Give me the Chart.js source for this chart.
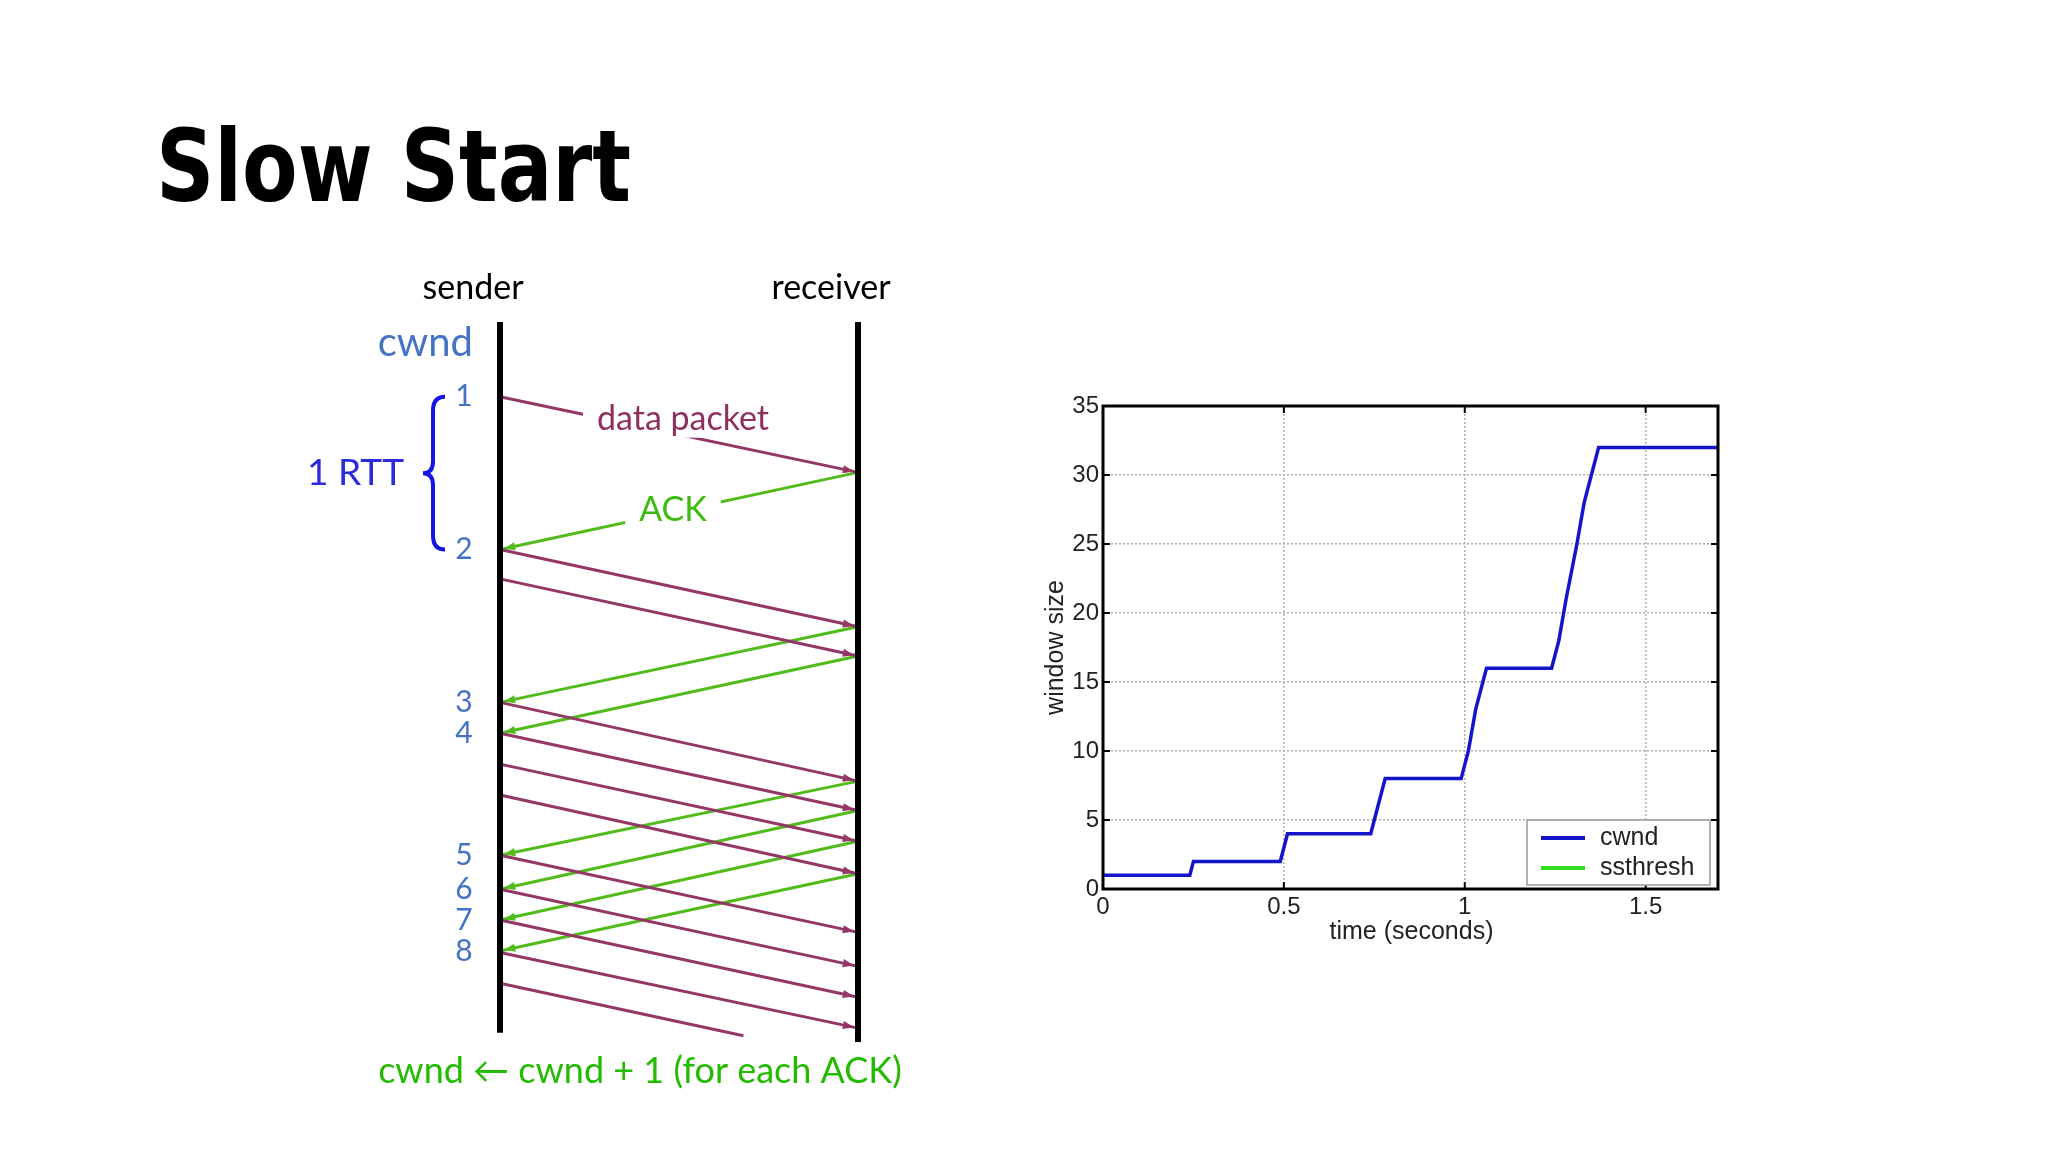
<!DOCTYPE html>
<html>
<head>
<meta charset="utf-8">
<script src="https://cdn.jsdelivr.net/npm/chart.js@4.4.1/dist/chart.umd.min.js"></script>
<style>
  body { margin: 0; background: #fff; width: 2048px; height: 1152px; overflow: hidden; position: relative; }
  #title { position: absolute; left: 156px; top: 108px; font-family: "DejaVu Sans Condensed", "DejaVu Sans"; font-weight: bold; font-size: 100px; letter-spacing: 0px; color: #000; transform: scaleX(0.9); transform-origin: left top; }
  canvas { position: absolute; left: 0; top: 0; }
</style>
</head>
<body>
<div id="title">Slow Start</div>
<canvas id="seq" width="2048" height="1152"></canvas>
<canvas id="cw" width="2048" height="1152"></canvas>
<script>
// ---- sequence diagram data (time in slot units, x: 0 = sender, 1 = receiver)
const dataSend = [0, 4.95, 5.9, 9.9, 10.9, 11.9, 12.9, 14.85, 15.95, 16.95, 18];
const dataRecv = [2.45, 7.45, 8.4, 12.45, 13.4, 14.4, 15.45, 17.35, 18.45, 19.45, 20.45];
const lastPacket = { send: 19, endX: 0.68, endT: 20.7 };
const ackLeave = [2.45, 7.45, 8.4, 12.45, 13.4, 14.4, 15.45];
const ackArrive = [4.95, 9.9, 10.9, 14.85, 15.95, 16.95, 17.95];
const cwndLabels = ['1', '2', '3', '4', '5', '6', '7', '8'];
const cwndTimes = [0, 4.95, 9.9, 10.9, 14.85, 15.95, 16.95, 17.95];

// ---- cwnd plot data
const timeSec = [0, 0.24, 0.25, 0.49, 0.51, 0.74, 0.78, 0.99, 1.01, 1.03, 1.06, 1.24, 1.26, 1.28, 1.31, 1.33, 1.35, 1.37, 1.70];
const cwndVals = [1, 1, 2, 2, 4, 4, 8, 8, 10, 13, 16, 16, 18, 21, 25, 28, 30, 32, 32];
const legendNames = ['cwnd', 'ssthresh'];

const DATA_COL = '#943766';
const ACK_COL = '#52bb1c';
const BLUE_TXT = '#4472c4';

const seqSets = [];
seqSets.push({ data: [{x: 0, y: -2.42}, {x: 0, y: 20.6}], borderColor: '#000', borderWidth: 6 });
seqSets.push({ data: [{x: 1, y: -2.42}, {x: 1, y: 20.9}], borderColor: '#000', borderWidth: 6 });
dataSend.forEach((s, i) => seqSets.push({ data: [{x: 0, y: s}, {x: 1, y: dataRecv[i]}], borderColor: DATA_COL, borderWidth: 3, arrow: true }));
seqSets.push({ data: [{x: 0, y: lastPacket.send}, {x: lastPacket.endX, y: lastPacket.endT}], borderColor: DATA_COL, borderWidth: 3 });
ackLeave.forEach((s, i) => seqSets.push({ data: [{x: 1, y: s}, {x: 0, y: ackArrive[i]}], borderColor: ACK_COL, borderWidth: 3, arrow: true }));
seqSets.forEach(d => { d.showLine = true; d.pointRadius = 0; d.clip = false; });

const seqDecor = {
  id: 'seqDecor',
  afterDatasetsDraw(chart) {
    const ctx = chart.ctx, xs = chart.scales.x, ys = chart.scales.y;
    // arrowheads
    chart.data.datasets.forEach(ds => {
      if (!ds.arrow) return;
      const a = ds.data[0], b = ds.data[1];
      const x1 = xs.getPixelForValue(a.x), y1 = ys.getPixelForValue(a.y);
      const x2 = xs.getPixelForValue(b.x), y2 = ys.getPixelForValue(b.y);
      const ang = Math.atan2(y2 - y1, x2 - x1);
      const tx = x2 - Math.cos(ang) * 4, ty = y2 - Math.sin(ang) * 4;
      ctx.save();
      ctx.fillStyle = ds.borderColor;
      ctx.beginPath();
      ctx.moveTo(tx, ty);
      ctx.lineTo(tx - 12 * Math.cos(ang - 0.35), ty - 12 * Math.sin(ang - 0.35));
      ctx.lineTo(tx - 12 * Math.cos(ang + 0.35), ty - 12 * Math.sin(ang + 0.35));
      ctx.closePath();
      ctx.fill();
      ctx.restore();
    });
    ctx.save();
    ctx.textAlign = 'center';
    ctx.textBaseline = 'middle';
    const label = (txt, x, y, col, size, bg) => {
      ctx.font = size + 'px Lato, "Open Sans", sans-serif';
      if (bg) {
        const w = ctx.measureText(txt).width;
        ctx.fillStyle = '#fff';
        ctx.fillRect(x - w / 2 - 14, y - size * 0.55, w + 28, size * 1.1);
      }
      ctx.fillStyle = col;
      ctx.fillText(txt, x, y);
    };
    const sx = xs.getPixelForValue(0), rx = xs.getPixelForValue(1);
    label('sender', sx - 27, 288, '#000', 34);
    label('receiver', rx - 27, 288, '#000', 34);
    ctx.textAlign = 'right';
    label('cwnd', sx - 27, 343, BLUE_TXT, 40);
    ctx.textAlign = 'center';
    cwndLabels.forEach((l, i) => label(l, sx - 36, ys.getPixelForValue(cwndTimes[i]), BLUE_TXT, 30));
    label('data packet', 683, 419, '#8e2f5e', 34, true);
    label('ACK', 673, 510, '#3dbb10', 34, true);
    label('cwnd \u2190 cwnd + 1 (for each ACK)', 640, 1071, '#22bb00', 36);
    // brace for one RTT
    const t0 = ys.getPixelForValue(cwndTimes[0]), t1 = ys.getPixelForValue(cwndTimes[1]);
    const mid = (t0 + t1) / 2, bx = 433;
    ctx.strokeStyle = '#1515e6';
    ctx.lineWidth = 4;
    ctx.beginPath();
    ctx.moveTo(bx + 12, t0);
    ctx.quadraticCurveTo(bx, t0, bx, t0 + 14);
    ctx.lineTo(bx, mid - 12);
    ctx.quadraticCurveTo(bx, mid, bx - 10, mid);
    ctx.quadraticCurveTo(bx, mid, bx, mid + 12);
    ctx.lineTo(bx, t1 - 14);
    ctx.quadraticCurveTo(bx, t1, bx + 12, t1);
    ctx.stroke();
    ctx.textAlign = 'right';
    label('1 RTT', 404, mid, '#2b2bdb', 37);
    ctx.restore();
  }
};

new Chart(document.getElementById('seq'), {
  type: 'scatter',
  data: { datasets: seqSets },
  options: {
    responsive: false, animation: false, events: [],
    layout: { padding: { left: 500, right: 2048 - 858, top: 322, bottom: 1152 - 1042 } },
    plugins: { legend: { display: false }, tooltip: { enabled: false } },
    scales: {
      x: { type: 'linear', min: 0, max: 1, display: false },
      y: { type: 'linear', min: -2.42, max: 20.9, reverse: true, display: false }
    }
  },
  plugins: [seqDecor]
});

// ---- cwnd vs time plot
const plotDecor = {
  id: 'plotDecor',
  afterDatasetsDraw(chart) {
    const ctx = chart.ctx, a = chart.chartArea, xs = chart.scales.x, ys = chart.scales.y;
    ctx.save();
    ctx.strokeStyle = '#000';
    ctx.lineWidth = 3;
    ctx.strokeRect(a.left, a.top, a.right - a.left, a.bottom - a.top);
    ctx.lineWidth = 2;
    ctx.beginPath();
    xs.ticks.forEach(t => {
      const p = xs.getPixelForValue(t.value);
      ctx.moveTo(p, a.bottom); ctx.lineTo(p, a.bottom - 7);
      ctx.moveTo(p, a.top); ctx.lineTo(p, a.top + 7);
    });
    ys.ticks.forEach(t => {
      const p = ys.getPixelForValue(t.value);
      ctx.moveTo(a.left, p); ctx.lineTo(a.left + 7, p);
      ctx.moveTo(a.right, p); ctx.lineTo(a.right - 7, p);
    });
    ctx.stroke();
    // axis titles
    ctx.fillStyle = '#222';
    ctx.font = '25px "Liberation Sans", Arial, sans-serif';
    ctx.textAlign = 'center';
    ctx.textBaseline = 'middle';
    ctx.fillText('time (seconds)', (a.left + a.right) / 2 + 1, 932);
    ctx.save();
    ctx.translate(1056, (a.top + a.bottom) / 2);
    ctx.rotate(-Math.PI / 2);
    ctx.fillText('window size', 0, 0);
    ctx.restore();
    // legend box
    const lx = 1527, ly = 820, lw = 183, lh = 65;
    ctx.fillStyle = '#fff';
    ctx.fillRect(lx, ly, lw, lh);
    ctx.strokeStyle = '#999';
    ctx.lineWidth = 1.5;
    ctx.strokeRect(lx, ly, lw, lh);
    ctx.textAlign = 'left';
    chart.data.datasets.forEach((ds, i) => {
      const y = ly + 18 + i * 30;
      ctx.strokeStyle = ds.borderColor;
      ctx.lineWidth = 4;
      ctx.beginPath();
      ctx.moveTo(lx + 14, y); ctx.lineTo(lx + 58, y);
      ctx.stroke();
      ctx.fillStyle = '#222';
      ctx.fillText(ds.label, lx + 73, y);
    });
    ctx.restore();
  }
};

const halfStep = s => { s.ticks = s.ticks.filter(t => Math.abs(t.value * 2 - Math.round(t.value * 2)) < 1e-6); };

new Chart(document.getElementById('cw'), {
  type: 'scatter',
  data: {
    datasets: [
      { label: legendNames[0], data: timeSec.map((t, i) => ({x: t, y: cwndVals[i]})), borderColor: '#1414cc', borderWidth: 3.5, showLine: true, pointRadius: 0 },
      { label: legendNames[1], data: [], borderColor: '#33dd22', borderWidth: 3.5, showLine: true, pointRadius: 0 }
    ]
  },
  options: {
    responsive: false, animation: false, events: [],
    layout: { padding: { left: 1103 - 50, right: 2048 - 1718, top: 406, bottom: 1152 - 889 - 40 } },
    plugins: { legend: { display: false }, tooltip: { enabled: false } },
    scales: {
      x: {
        type: 'linear', min: 0, max: 1.7,
        afterFit: s => { s.height = 40; },
        afterBuildTicks: halfStep,
        ticks: { stepSize: 0.5, color: '#222', font: { family: '"Liberation Sans", Arial', size: 24 }, padding: 4, maxRotation: 0, callback: v => String(v) },
        grid: { color: '#b0b0b0', lineWidth: 1.5, drawTicks: false },
        border: { display: false, dash: [2, 2] }
      },
      y: {
        type: 'linear', min: 0, max: 35,
        afterFit: s => { s.width = 50; },
        ticks: { stepSize: 5, color: '#222', font: { family: '"Liberation Sans", Arial', size: 24 }, padding: 4 },
        grid: { color: '#b0b0b0', lineWidth: 1.5, drawTicks: false },
        border: { display: false, dash: [2, 2] }
      }
    }
  },
  plugins: [plotDecor]
});
</script>
</body>
</html>
